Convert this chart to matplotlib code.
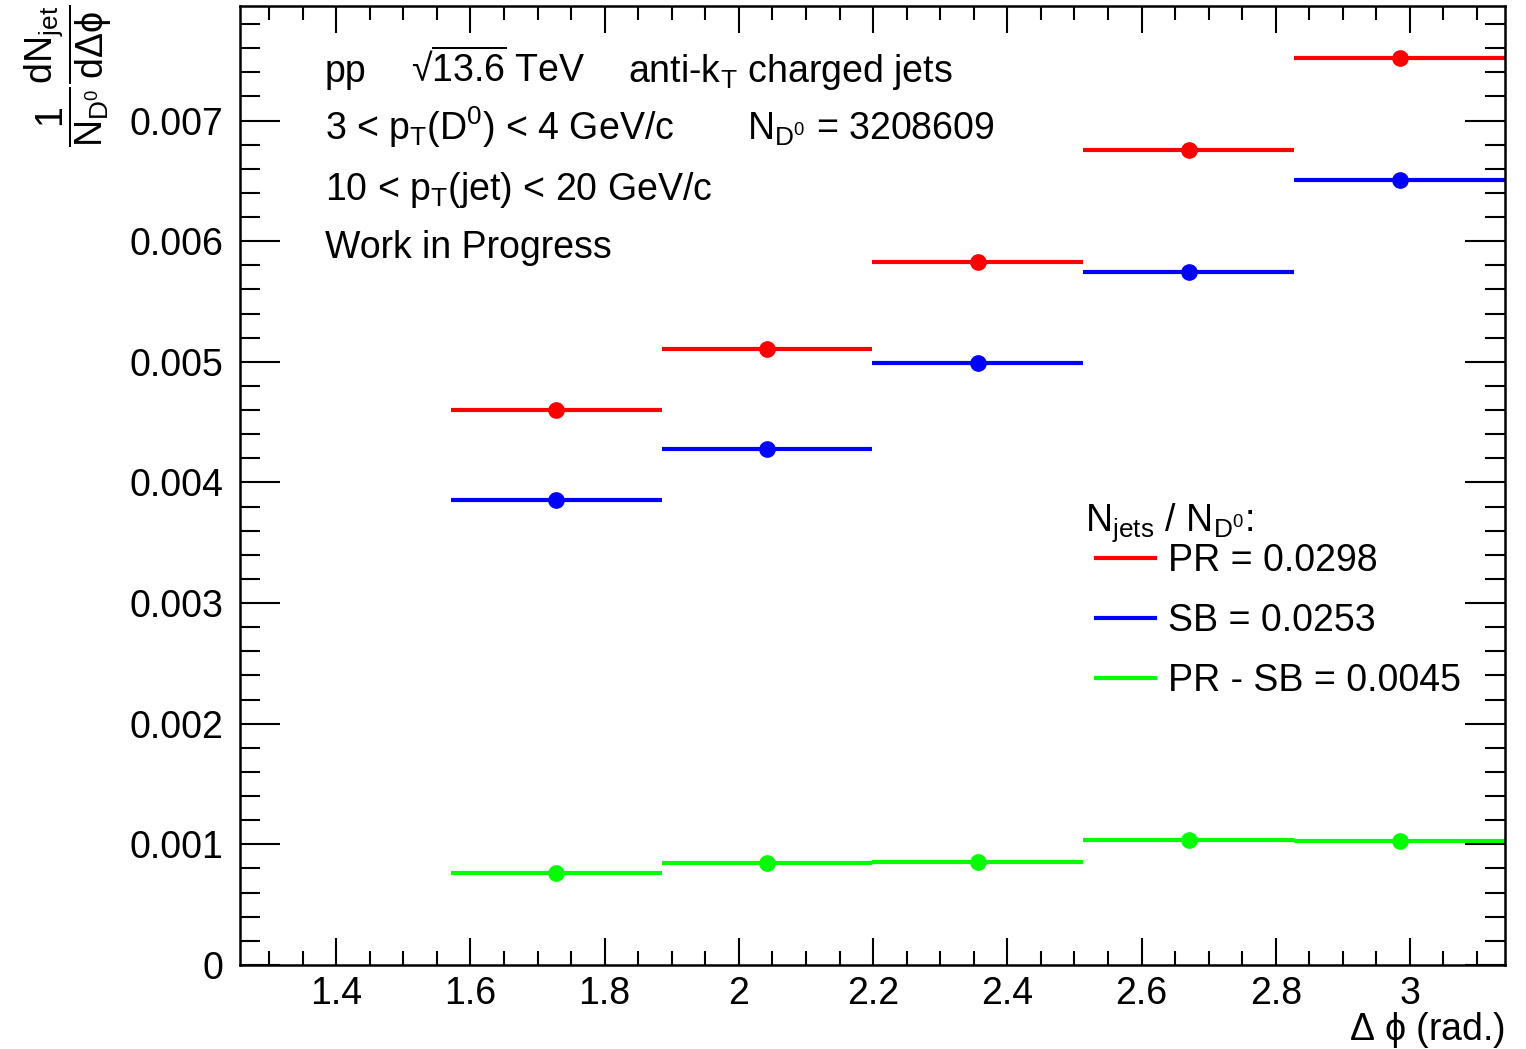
import numpy as np
import matplotlib
matplotlib.use("Agg")
import matplotlib.pyplot as plt
from matplotlib.ticker import MultipleLocator, FuncFormatter

plt.rcParams['font.family'] = ['Liberation Sans', 'DejaVu Sans']
plt.rcParams['mathtext.fontset'] = 'custom'
plt.rcParams['mathtext.rm'] = 'Liberation Sans'
plt.rcParams['mathtext.it'] = 'Liberation Sans'
plt.rcParams['mathtext.bf'] = 'Liberation Sans:bold'
plt.rcParams['mathtext.default'] = 'regular'

# bins in delta phi: pi/2 .. pi, 5 bins
bin_edges = np.pi * np.array([0.5, 0.6, 0.7, 0.8, 0.9, 1.0])
pr_vals = [0.004598, 0.005104, 0.005824, 0.006760, 0.007515]
sb_vals = [0.003853, 0.004275, 0.004988, 0.005741, 0.006504]
diff_vals = [0.000762, 0.000845, 0.000853, 0.001036, 0.001027]
labels = ["PR = 0.0298", "SB = 0.0253", "PR - SB = 0.0045"]
colors = ["#ff0000", "#0000ff", "#00ff00"]

centers = 0.5 * (bin_edges[1:] + bin_edges[:-1])
half_w = 0.5 * np.diff(bin_edges)

fig = plt.figure(figsize=(15.26, 10.49), dpi=100)
ax = fig.add_axes([0.1573, 0.0801, 0.9862 - 0.1573, 0.9943 - 0.0801])

handles = []
for vals, col in zip([pr_vals, sb_vals, diff_vals], colors):
    ax.errorbar(centers, vals, xerr=half_w, fmt='o', color=col, ms=11,
                elinewidth=3, capsize=0, clip_on=True)
    handles.append(plt.Line2D([], [], color=col, lw=3))

ax.set_xlim(0.4 * np.pi, np.pi)
ax.set_ylim(0, 0.00795)

ax.xaxis.set_major_locator(MultipleLocator(0.2))
ax.xaxis.set_minor_locator(MultipleLocator(0.05))
ax.yaxis.set_major_locator(MultipleLocator(0.001))
ax.yaxis.set_minor_locator(MultipleLocator(0.0002))
ax.xaxis.set_major_formatter(FuncFormatter(lambda v, p: "%g" % round(v, 3)))
ax.yaxis.set_major_formatter(FuncFormatter(lambda v, p: "0" if abs(v) < 1e-12 else "%g" % round(v, 4)))

ax.tick_params(which='both', direction='in', top=True, right=True, labelsize=27, width=1.5)
ax.tick_params(axis='x', which='major', length=19.5, pad=8)
ax.tick_params(axis='x', which='minor', length=10)
ax.tick_params(axis='y', which='major', length=29, pad=12)
ax.tick_params(axis='y', which='minor', length=14.5)
for sp in ax.spines.values():
    sp.set_linewidth(1.8)

# x label at the right end
ax.text(1.0, -0.078, r"$\Delta\ \phi$ (rad.)", transform=ax.transAxes,
        ha='right', va='baseline', fontsize=27)

# y label at the top
fig.text(0.0446, 0.996, r"$\dfrac{1}{N_{D^{0}}}\dfrac{dN_{jet}}{d\Delta\phi}$",
         rotation=90, ha='center', va='top', fontsize=27)

fs = 27
tx = 0.0672
ax.text(tx, 0.9208, "pp", transform=ax.transAxes, fontsize=fs, va='baseline')
ax.text(0.1352, 0.9208, r"√$\overline{13.6}$ TeV", transform=ax.transAxes, fontsize=fs, va='baseline')
ax.text(0.3067, 0.9208, r"anti-k$_{T}$ charged jets", transform=ax.transAxes, fontsize=fs, va='baseline')
ax.text(tx, 0.8603, r"3 < p$_{T}$(D$^{0}$) < 4 GeV/c", transform=ax.transAxes, fontsize=fs, va='baseline')
ax.text(0.4008, 0.8603, r"N$_{D^{0}}$ = 3208609", transform=ax.transAxes, fontsize=fs, va='baseline')
ax.text(tx, 0.7977, r"10 < p$_{T}$(jet) < 20 GeV/c", transform=ax.transAxes, fontsize=fs, va='baseline')
ax.text(tx, 0.7372, "Work in Progress", transform=ax.transAxes, fontsize=fs, va='baseline')

# legend
ax.text(0.668, 0.4526, r"N$_{jets}$ / N$_{D^{0}}$:", transform=ax.transAxes, fontsize=fs, va='baseline')
ax.legend(handles, labels, loc='upper left', bbox_to_anchor=(0.677, 0.4395),
          frameon=False, fontsize=fs, handlelength=1.55, handletextpad=0.35,
          labelspacing=0.63, borderpad=0, borderaxespad=0)

fig.savefig("out.png", dpi=100)
